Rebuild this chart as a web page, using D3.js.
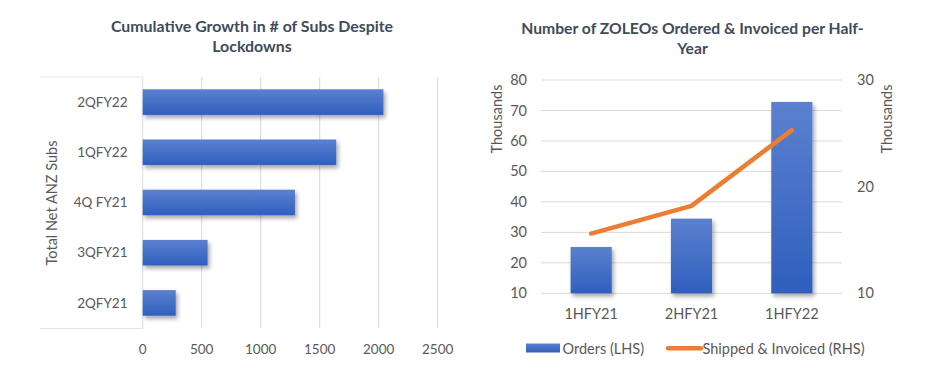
<!DOCTYPE html>
<html>
<head>
<meta charset="utf-8">
<script src="https://cdn.jsdelivr.net/npm/d3@7"></script>
<style>
  body { margin: 0; background: #fff; }
  text { font-family: Lato, "Open Sans", sans-serif; }
</style>
</head>
<body>
<svg id="chart" width="940" height="375"></svg>
<script>
// left chart data
const subsCategories = ["2QFY22", "1QFY22", "4Q FY21", "3QFY21", "2QFY21"];
const subsValues = [2040, 1640, 1290, 550, 280];
const subsTicks = [0, 500, 1000, 1500, 2000, 2500];

// right chart data (thousands)
const halves = ["1HFY21", "2HFY21", "1HFY22"];
const orders = [25.2, 34.5, 72.8];
const shipped = [15.6, 18.2, 25.3];
const leftTicks = [10, 20, 30, 40, 50, 60, 70, 80];
const rightTicks = [10, 20, 30];

const svg = d3.select("#chart");
const labelColor = "#595959";
const titleColor = "#404b5c";
const gridColor = "#d9d9d9";

// gradient + shadow for the bars
const defs = svg.append("defs");
const grad = defs.append("linearGradient").attr("id", "barGradV")
    .attr("x1", 0).attr("y1", 0).attr("x2", 0).attr("y2", 1);
grad.append("stop").attr("offset", "0%").attr("stop-color", "#5b80d0");
grad.append("stop").attr("offset", "100%").attr("stop-color", "#2f5fbd");

const shadow = defs.append("filter").attr("id", "shadow")
    .attr("x", "-10%").attr("y", "-20%").attr("width", "130%").attr("height", "160%");
shadow.append("feDropShadow").attr("dx", 2).attr("dy", 3).attr("stdDeviation", 2)
    .attr("flood-color", "#000").attr("flood-opacity", 0.35);

// ---------- left: cumulative growth ----------
const g1 = svg.append("g");

const x1 = d3.scaleLinear().domain([0, 2500]).range([142.7, 437.7]);
const y1 = d3.scaleBand().domain(subsCategories).range([77, 328])
    .paddingInner(0.49).paddingOuter(0.245);

// label panel
g1.append("path")
    .attr("d", "M40,77H142.7V328.5H40")
    .attr("fill", "none").attr("stroke", "#dfe4ec").attr("stroke-width", 1);

g1.selectAll(".grid").data(subsTicks).join("line")
    .attr("x1", d => x1(d)).attr("x2", d => x1(d))
    .attr("y1", 77).attr("y2", 328.5)
    .attr("stroke", d => d === 0 ? "#dfe4ec" : gridColor).attr("stroke-width", 1);

g1.selectAll(".bar").data(subsValues).join("rect")
    .attr("x", x1(0))
    .attr("y", (d, i) => y1(subsCategories[i]))
    .attr("width", d => x1(d) - x1(0))
    .attr("height", y1.bandwidth())
    .attr("fill", "url(#barGradV)")
    .attr("filter", "url(#shadow)");

g1.selectAll(".cat").data(subsCategories).join("text")
    .attr("x", 127.5)
    .attr("y", d => y1(d) + y1.bandwidth() / 2)
    .attr("dy", "0.35em")
    .attr("text-anchor", "end")
    .attr("font-size", 13.5)
    .attr("fill", labelColor)
    .text(d => d);

g1.selectAll(".tick").data(subsTicks).join("text")
    .attr("x", d => x1(d))
    .attr("y", 349)
    .attr("dy", "0.35em")
    .attr("text-anchor", "middle")
    .attr("font-size", 13.5)
    .attr("fill", labelColor)
    .text(d => d);

g1.append("text")
    .attr("transform", "translate(52,203) rotate(-90)")
    .attr("dy", "0.35em")
    .attr("text-anchor", "middle")
    .attr("font-size", 14.5)
    .attr("fill", labelColor)
    .text("Total Net ANZ Subs");

g1.append("text")
    .attr("x", 252).attr("y", 26).attr("dy", "0.35em")
    .attr("text-anchor", "middle").attr("font-size", 15.9).attr("font-weight", "bold")
    .attr("fill", titleColor)
    .text("Cumulative Growth in # of Subs Despite");
g1.append("text")
    .attr("x", 252).attr("y", 46).attr("dy", "0.35em")
    .attr("text-anchor", "middle").attr("font-size", 15.9).attr("font-weight", "bold")
    .attr("fill", titleColor)
    .text("Lockdowns");

// ---------- right: ordered & invoiced ----------
const g2 = svg.append("g");

const x2 = d3.scaleBand().domain(halves).range([541, 842])
    .paddingInner(0.59).paddingOuter(0.295);
const yL = d3.scaleLinear().domain([10, 80]).range([293.3, 80]);
const yR = d3.scaleLinear().domain([10, 30]).range([293.3, 80]);

g2.selectAll(".grid").data(leftTicks).join("line")
    .attr("x1", 541).attr("x2", 842)
    .attr("y1", d => yL(d)).attr("y2", d => yL(d))
    .attr("stroke", gridColor).attr("stroke-width", 1);

g2.selectAll(".bar").data(orders).join("rect")
    .attr("x", (d, i) => x2(halves[i]))
    .attr("y", d => yL(d))
    .attr("width", x2.bandwidth())
    .attr("height", d => yL(10) - yL(d))
    .attr("fill", "url(#barGradV)")
    .attr("filter", "url(#shadow)");

const line = d3.line()
    .x((d, i) => x2(halves[i]) + x2.bandwidth() / 2)
    .y(d => yR(d));
g2.append("path")
    .datum(shipped)
    .attr("d", line)
    .attr("fill", "none")
    .attr("stroke", "#ed7d31")
    .attr("stroke-width", 4.5)
    .attr("stroke-linecap", "round")
    .attr("stroke-linejoin", "round");

g2.selectAll(".ltick").data(leftTicks).join("text")
    .attr("x", 527)
    .attr("y", d => yL(d))
    .attr("dy", "0.35em")
    .attr("text-anchor", "end")
    .attr("font-size", 14.5)
    .attr("fill", labelColor)
    .text(d => d);

g2.selectAll(".rtick").data(rightTicks).join("text")
    .attr("x", 857)
    .attr("y", d => yR(d))
    .attr("dy", "0.35em")
    .attr("text-anchor", "start")
    .attr("font-size", 14.5)
    .attr("fill", labelColor)
    .text(d => d);

g2.selectAll(".xlab").data(halves).join("text")
    .attr("x", d => x2(d) + x2.bandwidth() / 2)
    .attr("y", 313.5)
    .attr("dy", "0.35em")
    .attr("text-anchor", "middle")
    .attr("font-size", 14.5)
    .attr("fill", labelColor)
    .text(d => d);

[[496.7, 119], [886.7, 119]].forEach(([cx, cy]) => {
    g2.append("text")
        .attr("transform", `translate(${cx},${cy}) rotate(-90)`)
        .attr("dy", "0.35em")
        .attr("text-anchor", "middle")
        .attr("font-size", 14.5)
        .attr("fill", labelColor)
        .text("Thousands");
});

g2.append("text")
    .attr("x", 692.5).attr("y", 29).attr("dy", "0.35em")
    .attr("text-anchor", "middle").attr("font-size", 15.7).attr("font-weight", "bold")
    .attr("fill", titleColor)
    .text("Number of ZOLEOs Ordered & Invoiced per Half-");
g2.append("text")
    .attr("x", 692.5).attr("y", 49).attr("dy", "0.35em")
    .attr("text-anchor", "middle").attr("font-size", 15.7).attr("font-weight", "bold")
    .attr("fill", titleColor)
    .text("Year");

// legend
const legend = g2.append("g");
legend.append("rect")
    .attr("x", 526).attr("y", 343.5).attr("width", 34).attr("height", 9)
    .attr("fill", "url(#barGradV)");
legend.append("text")
    .attr("x", 562.5).attr("y", 348.5).attr("dy", "0.35em")
    .attr("font-size", 14.5).attr("fill", labelColor)
    .text("Orders (LHS)");
legend.append("line")
    .attr("x1", 668).attr("x2", 701).attr("y1", 348.3).attr("y2", 348.3)
    .attr("stroke", "#ed7d31").attr("stroke-width", 4.5).attr("stroke-linecap", "round");
legend.append("text")
    .attr("x", 702.5).attr("y", 348.5).attr("dy", "0.35em")
    .attr("font-size", 14.5).attr("fill", labelColor)
    .text("Shipped & Invoiced (RHS)");
</script>
</body>
</html>
